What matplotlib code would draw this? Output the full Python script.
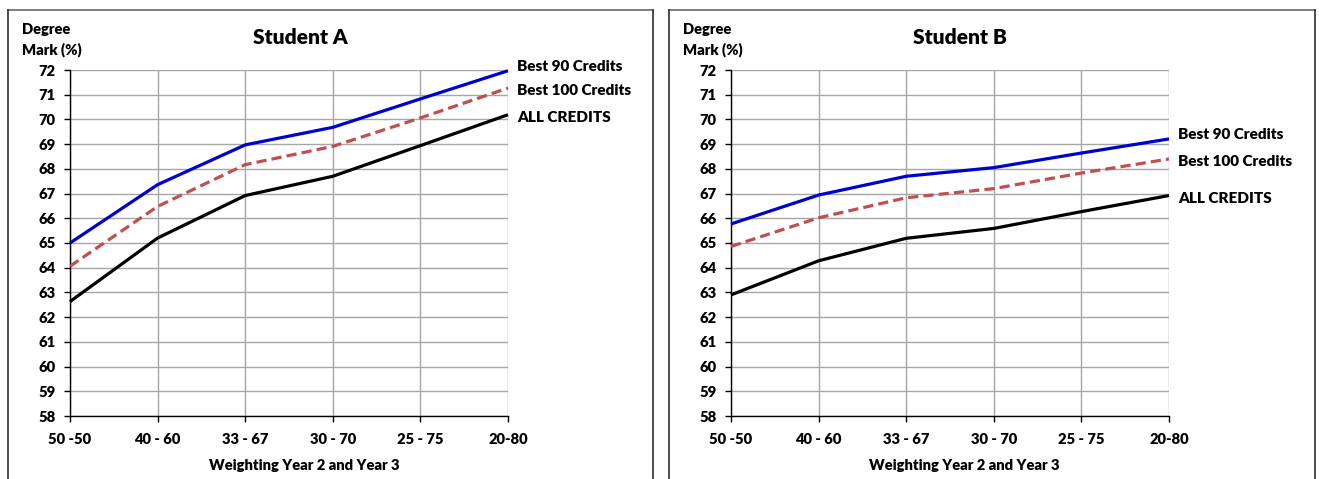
import matplotlib
matplotlib.use("Agg")
import matplotlib.pyplot as plt
from matplotlib.lines import Line2D

plt.rcParams['font.family'] = ['Lato', 'DejaVu Sans']
plt.rcParams['font.weight'] = 'bold'

# Weighting of Year 2 vs Year 3
weightings = ["50 -50", "40 - 60", "33 - 67", "30 - 70", "25 - 75", "20-80"]

# Degree mark (%) under each rule
a_best90 = [65.0, 67.36, 68.97, 69.68, 70.83, 71.97]
a_best100 = [64.06, 66.48, 68.17, 68.91, 70.06, 71.27]
a_all = [62.63, 65.2, 66.92, 67.7, 68.94, 70.19]

b_best90 = [65.77, 66.94, 67.7, 68.05, 68.64, 69.21]
b_best100 = [64.86, 66.02, 66.83, 67.2, 67.83, 68.4]
b_all = [62.9, 64.28, 65.19, 65.59, 66.27, 66.92]

series_names = ["Best 90 Credits", "Best 100 Credits", "ALL CREDITS"]
students = [
    ("Student A", [a_best90, a_best100, a_all]),
    ("Student B", [b_best90, b_best100, b_all]),
]

W, H = 1319, 479
fig = plt.figure(figsize=(W / 100, H / 100), dpi=100)

line_styles = [
    dict(color="#0000d0", lw=2.3, ls="-"),
    dict(color="#c0504d", lw=2.3, ls=(0, (3.2, 1.6))),
    dict(color="#000000", lw=2.3, ls="-"),
]
label_offsets = [3, -2, -2]
FS = 10.6

panel_px = [(8, 653, 70, 508, 300, 304), (669, 1315, 731, 1169, 960, 964)]
y_top_px, y_bot_px = 70, 416

for (title, data), (bx0, bx1, ax0, ax1, tx, lx) in zip(students, panel_px):
    # chart frame
    top = 1 - 9.5 / H
    fig.add_artist(Line2D([bx0 / W, bx1 / W], [top, top], color="#808080", lw=1.4,
                          transform=fig.transFigure))
    for bx in (bx0, bx1):
        fig.add_artist(Line2D([bx / W, bx / W], [top, -0.01], color="#303030", lw=1.2,
                              transform=fig.transFigure))

    ax = fig.add_axes([ax0 / W, 1 - y_bot_px / H, (ax1 - ax0) / W, (y_bot_px - y_top_px) / H])
    x = list(range(len(weightings)))
    for vals, name, st, off in zip(data, series_names, line_styles, label_offsets):
        ax.plot(x, vals, solid_capstyle="butt", dash_capstyle="butt", zorder=3, clip_on=False, **st)
        ax.annotate(name, xy=(x[-1], vals[-1]), xytext=(6.5, off), textcoords="offset points",
                    ha="left", va="center", fontsize=11, fontweight="heavy",
                    annotation_clip=False)

    ax.set_xlim(0, len(weightings) - 1)
    ax.set_ylim(58, 72)
    ax.set_xticks(x)
    ax.set_xticklabels(weightings)
    ax.set_yticks(range(58, 73))
    ax.grid(True, color="#a6a6a6", lw=1.0, zorder=0)
    ax.set_axisbelow(True)
    for s in ("top", "right"):
        ax.spines[s].set_visible(False)
    for s in ("left", "bottom"):
        ax.spines[s].set_color("black")
        ax.spines[s].set_linewidth(1.0)
    ax.tick_params(axis="both", direction="out", length=4.5, width=1.0, color="black",
                   labelsize=FS)
    ax.tick_params(axis="x", pad=8)
    ax.tick_params(axis="y", pad=6)
    for lab in ax.get_xticklabels() + ax.get_yticklabels():
        lab.set_fontweight("heavy")

    ax.set_xlabel("Weighting Year 2 and Year 3", fontsize=FS, fontweight="heavy")
    ax.xaxis.set_label_coords((lx - ax0) / (ax1 - ax0),
                              -(459 - y_bot_px) / (y_bot_px - y_top_px))

    fig.text(tx / W, 1 - 38 / H, title, ha="center", va="center", fontsize=15,
             fontweight="heavy")
    fig.text((bx0 + 14) / W, 1 - 29 / H, "Degree", ha="left", va="center", fontsize=FS,
             fontweight="heavy")
    fig.text((bx0 + 14) / W, 1 - 50 / H, "Mark (%)", ha="left", va="center", fontsize=FS,
             fontweight="heavy")

fig.savefig("out.png", dpi=100, facecolor="white")
